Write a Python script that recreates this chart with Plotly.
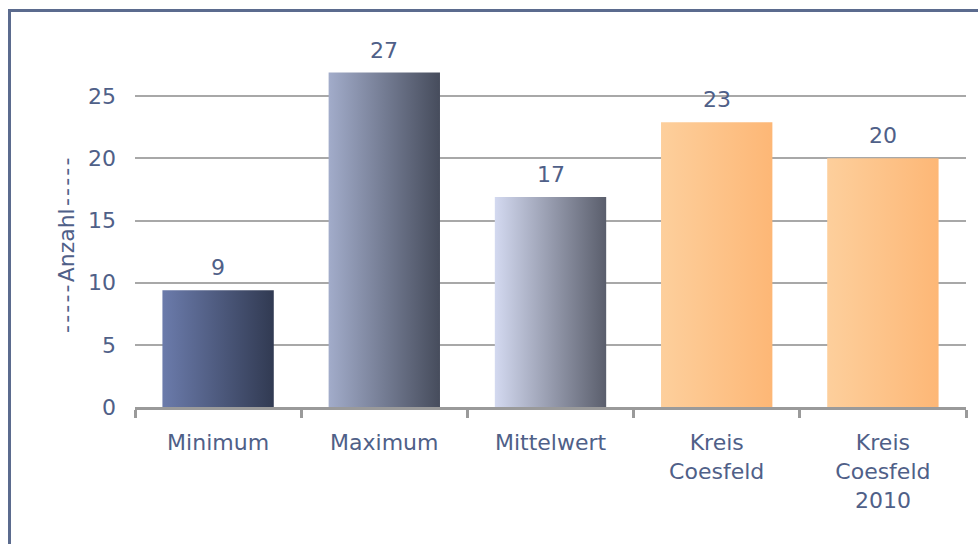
import plotly.graph_objects as go

categories = ["Minimum", "Maximum", "Mittelwert", "Kreis<br>Coesfeld", "Kreis<br>Coesfeld<br>2010"]
values = [9.4, 26.9, 16.9, 22.9, 20.0]
labels = ["9", "27", "17", "23", "20"]
grad_left = ["#6b7bab", "#a2acca", "#d3d9f0", "#fdcf9c", "#fdcf9c"]
grad_right = ["#313a52", "#464c5c", "#5a5e6c", "#fdb776", "#fdb776"]
y_ticks = [0, 5, 10, 15, 20, 25]
y_title = "Anzahl"

TXT = "#4f6088"
FONT = "DejaVu Sans"
FS = 22
BAR_W = 0.67

fig = go.Figure()
for i, (v, c0, c1) in enumerate(zip(values, grad_left, grad_right)):
    x0, x1 = i - BAR_W / 2, i + BAR_W / 2
    fig.add_trace(go.Scatter(
        x=[x0, x1, x1, x0, x0], y=[0, 0, v, v, 0],
        mode="lines", line=dict(width=0), fill="toself",
        fillgradient=dict(type="horizontal", colorscale=[[0, c0], [1, c1]]),
        hoverinfo="skip", showlegend=False,
    ))

for i, (v, t) in enumerate(zip(values, labels)):
    fig.add_annotation(x=i, y=v, text=t, showarrow=False, xanchor="center",
                       yanchor="bottom", yshift=8,
                       font=dict(family=FONT, size=FS, color=TXT))

W, H = 978, 544
L, R, T, B = 135, 12, 34, 137
pw, ph = W - L - R, H - T - B

def px(x):
    return (x - L) / pw

def py(y):
    return (H - B - y) / ph

frame = "#5b6b8e"
fig.add_shape(type="line", xref="paper", yref="paper", x0=px(9.5), x1=px(9.5),
              y0=py(9), y1=py(544), line=dict(color=frame, width=3))
fig.add_shape(type="line", xref="paper", yref="paper", x0=px(8), x1=px(978),
              y0=py(10.5), y1=py(10.5), line=dict(color=frame, width=3))

dashes = "\u200a".join(["-"] * 5)
fig.add_annotation(text=dashes + "\u200a" + y_title + "\u200a" + dashes,
                   xref="paper", yref="paper",
                   x=px(67), y=py(246), textangle=-90, showarrow=False,
                   xanchor="center", yanchor="middle",
                   font=dict(family=FONT, size=FS, color=TXT))

fig.update_layout(
    width=W, height=H, autosize=False,
    margin=dict(l=L, r=R, t=T, b=B),
    paper_bgcolor="white", plot_bgcolor="white",
    font=dict(family=FONT, size=FS, color=TXT),
    xaxis=dict(
        range=[-0.5, len(values) - 0.5], tickmode="array",
        tickvals=list(range(len(values))), ticktext=categories,
        ticks="", showgrid=False, zeroline=False,
        showline=True, linecolor="#9a9a9a", linewidth=3,
        tickfont=dict(family=FONT, size=FS, color=TXT),
        ticklabelstandoff=14,
        minor=dict(tickmode="linear", tick0=-0.5, dtick=1, ticks="outside",
                   ticklen=8, tickwidth=3, tickcolor="#9a9a9a", showgrid=False),
        fixedrange=True,
    ),
    yaxis=dict(
        range=[0, 30], tickmode="array", tickvals=y_ticks,
        showgrid=True, gridcolor="#a8a8a8", gridwidth=1.5,
        zeroline=False, showline=False, ticks="", ticklabelstandoff=18,
        tickfont=dict(family=FONT, size=FS, color=TXT),
        fixedrange=True,
    ),
)

fig.write_html("out.html")
